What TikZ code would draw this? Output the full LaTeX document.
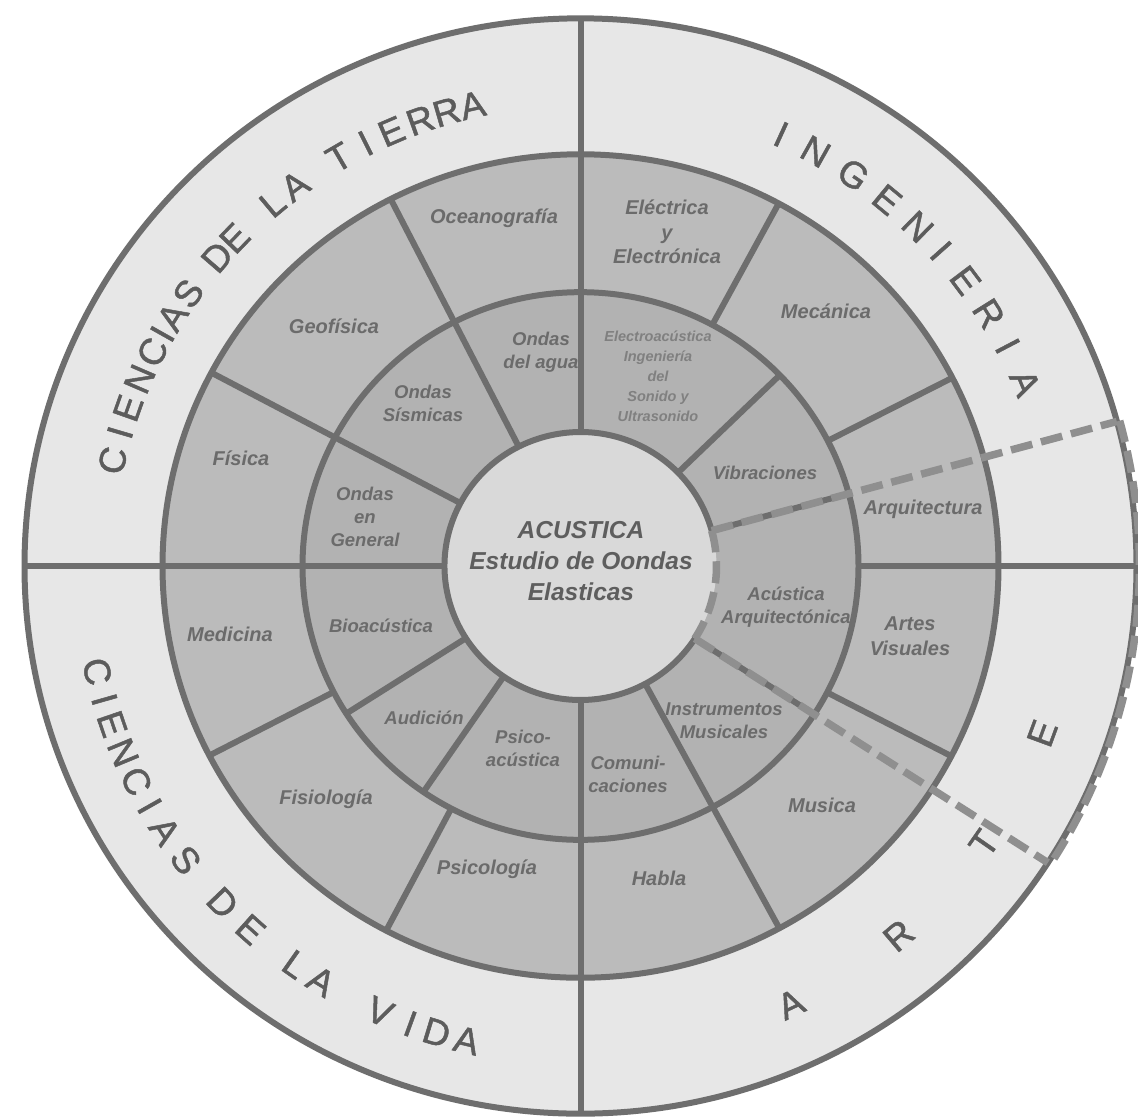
\documentclass[tikz,border=0pt]{standalone}
\usepackage{fontspec}
\setmainfont{Liberation Sans}
\newfontfamily\titlefont[FakeBold=1.3]{Liberation Sans}
\definecolor{ringout}{gray}{0.905}
\definecolor{ringmid}{gray}{0.735}
\definecolor{ringin}{gray}{0.70}
\definecolor{core}{gray}{0.85}
\definecolor{linegray}{gray}{0.43}
\definecolor{dashgray}{gray}{0.56}
\definecolor{txt}{gray}{0.42}
\definecolor{txtlight}{gray}{0.50}
\definecolor{coretxt}{gray}{0.37}
\definecolor{bigtxt}{gray}{0.36}
\begin{document}
\begin{tikzpicture}[x=1pt,y=-1pt,
  sep/.style={draw=linegray, line width=6pt},
  sepdash/.style={draw=dashgray, line width=7.5pt, dash pattern=on 22pt off 9pt},
  lab/.style={text=txt, font=\bfseries\itshape\fontsize{20}{24.5}\selectfont, align=center, inner sep=0pt},
  labin/.style={lab, font=\bfseries\itshape\fontsize{18.5}{23}\selectfont},
  labsmall/.style={lab, text=txtlight, font=\bfseries\itshape\fontsize{14.5}{20}\selectfont},
  coretext/.style={text=coretxt, font=\bfseries\itshape\fontsize{24.5}{31}\selectfont, align=center, inner sep=0pt},
  bigletter/.style={text=bigtxt, font=\titlefont\fontsize{37}{37}\selectfont, inner sep=0pt, anchor=center}
]
\useasboundingbox (0,0) rectangle (1138,1117);
\fill[white] (0,0) rectangle (1138,1117);

% ring fills
\begin{scope}[shift={(580.5,566)}, x=1pt, y=0.985pt]
  \fill[ringout] (0,0) circle[radius=556];
  \fill[ringmid] (0,0) circle[radius=418];
  \fill[ringin]  (0,0) circle[radius=278];
  \fill[core]    (0,0) circle[radius=136];
\end{scope}

% sector labels
\node[lab]   (ocean)   at (494,218) {Oceanografía};
\node[lab]   (geof)    at (334,326) {Geofísica};
\node[lab]   (fisica)  at (241,458) {Física};
\node[labin] (sism)    at (423,403) {Ondas\\Sísmicas};
\node[labin] (agua)    at (541,352) {Ondas\\del agua};
\node[labin] (general) at (365,517) {Ondas\\en\\General};
\node[lab]   (electr)  at (667,232) {Eléctrica\\y\\Electrónica};
\node[lab]   (mecan)   at (826,311) {Mecánica};
\node[labsmall] (electroac) at (658,376) {Electroacústica\\Ingeniería\\del\\Sonido y\\Ultrasonido};
\node[labin] (vibr)    at (765,473) {Vibraciones};
\node[lab]   (arqui)   at (923,509) {Arquitectura};
\node[labin] (acarq)   at (786,607) {Acústica\\Arquitectónica};
\node[lab]   (artes)   at (910,636) {Artes\\Visuales};
\node[lab]   (medic)   at (230,634) {Medicina};
\node[labin] (bioac)   at (381,626) {Bioacústica};
\node[labin] (audic)   at (424,718) {Audición};
\node[labin] (psicoac) at (523,748) {Psico-\\acústica};
\node[lab]   (fisio)   at (326,799) {Fisiología};
\node[lab]   (psicol)  at (487,869) {Psicología};
\node[labin] (comun)   at (628,774) {Comuni-\\caciones};
\node[labin] (instr)   at (724,721) {Instrumentos\\Musicales};
\node[lab]   (musica)  at (822,805) {Musica};
\node[lab]   (habla)   at (659,878) {Habla};
\node[coretext] (core) at (581,561) {ACUSTICA\\Estudio de Oondas\\Elasticas};

\begin{scope}[shift={(580.5,566)}, x=1pt, y=0.985pt]
  % radial separators: angle / inner radius / outer radius
  \foreach \a/\ri/\ro in {90/136/556, 270/136/556, 180/136/556, 0/278/556,
      117/136/418, 152/136/418, 61.7/278/418, 27.2/278/418, 44.2/136/278,
      15.3/136/278, -32.8/136/278, -27.5/278/418, -61.6/136/418,
      207.4/278/418, 242.3/278/418, 212.6/136/278, 235.6/136/278}
    \draw[sep] (\a:\ri) -- (\a:\ro);
  % ring outlines
  \draw[sep] (0,0) circle[radius=556];
  \draw[sep] (0,0) circle[radius=418];
  \draw[sep] (0,0) circle[radius=278];
  \draw[sep] (15.3:136) arc[start angle=15.3, end angle=327.2, radius=136];
  % shared region of Ingenieria and Arte
  \draw[sepdash] (15.3:136) -- (15.3:556);
  \draw[sepdash] (-32.8:136) -- (-32.8:556);
  \draw[sepdash] (15.3:136) arc[start angle=15.3, end angle=-32.8, radius=136];
  \draw[sepdash] (15.3:559) arc[start angle=15.3, end angle=-32.8, radius=559];

  % outer ring titles
  \foreach \a/\l [count=\i] in {167.1/C,163.6/I,160.5/E,156.7/N,153.1/C,150.6/I,148.2/A,144.8/S,
      139.2/D,136.1/E,129.9/L,126.5/A,120.2/T,116.6/I,113.2/E,109.5/R,106.2/R,103.0/A}
    \node[bigletter, rotate=\a-90] (tierra\i) at (\a:480) {\l};
  \foreach \a/\l [count=\i] in {65.4/I,60.8/N,55.5/G,50.5/E,45.6/N,41.6/I,37.0/E,32.1/R,27.6/I,22.7/A}
    \node[bigletter, rotate=\a-90] (ing\i) at (\a:482) {\l};
  \foreach \a/\l [count=\i] in {192.5/C,195.9/I,198.9/E,202.5/N,206.2/C,209.5/I,212.9/A,217.1/S,
      223.7/D,228.2/E,234.8/L,238.4/A,246.1/V,249.9/I,253.1/D,256.7/A}
    \node[bigletter, rotate=\a+90] (vida\i) at (\a:495) {\l};
  \foreach \a/\l [count=\i] in {-64.7/A,-49.7/R,-34.9/T,-20.2/E}
    \node[bigletter, rotate=\a+90] (arte\i) at (\a:492) {\l};
\end{scope}
\end{tikzpicture}
\end{document}
